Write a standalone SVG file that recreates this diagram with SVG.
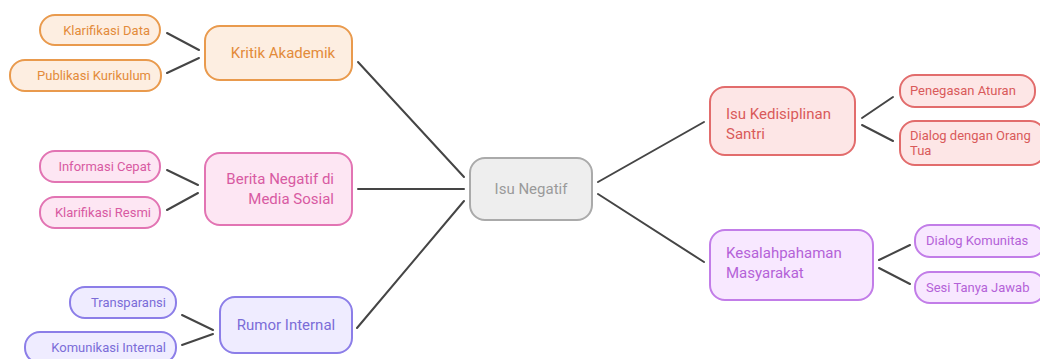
<svg xmlns="http://www.w3.org/2000/svg" width="1040" height="359" viewBox="0 0 1040 359">
<style>
text{font-family:Roboto,"Liberation Sans",sans-serif}
.m{font-size:15px}
.l{font-size:13px}
.c line{stroke:#454545;stroke-width:2;stroke-linecap:round}
.o rect{fill:#fdeee1;stroke:#e99a4d;stroke-width:2}.o text{fill:#e38b3a}
.p rect{fill:#fde6f3;stroke:#e274b3;stroke-width:2}.p text{fill:#d85aa2}
.b rect{fill:#efecff;stroke:#8c7ee8;stroke-width:2}.b text{fill:#7b6cd8}
.g rect{fill:#eeeeee;stroke:#aaaaaa;stroke-width:2}.g text{fill:#9a9a9a}
.r rect{fill:#fde6e6;stroke:#e26c6c;stroke-width:2}.r text{fill:#d95a5a}
.v rect{fill:#f8e8ff;stroke:#c27de8;stroke-width:2}.v text{fill:#b462d8}
</style>
<rect width="1040" height="359" fill="#ffffff"/>
<g class="c">
<line x1="167" y1="33" x2="199" y2="50"/>
<line x1="167" y1="73" x2="199" y2="58"/>
<line x1="167" y1="170" x2="198" y2="185"/>
<line x1="167" y1="210" x2="198" y2="193"/>
<line x1="182" y1="315" x2="213" y2="330"/>
<line x1="182" y1="345" x2="213" y2="334"/>
<line x1="358" y1="62" x2="464" y2="177"/>
<line x1="358" y1="189" x2="464" y2="189"/>
<line x1="357" y1="328" x2="464" y2="201"/>
<line x1="598" y1="182" x2="704" y2="122"/>
<line x1="598" y1="194" x2="704" y2="262"/>
<line x1="862" y1="118" x2="893" y2="97"/>
<line x1="862" y1="125" x2="893" y2="141"/>
<line x1="879" y1="260" x2="910" y2="245"/>
<line x1="879" y1="268" x2="910" y2="284"/>
</g>
<g id="isu-negatif" class="g"><rect x="470" y="158" width="122" height="62" rx="15"/><text class="m" x="531" y="194" text-anchor="middle">Isu Negatif</text></g>
<g id="kritik-akademik" class="o"><rect x="205" y="26" width="147" height="54" rx="15"/><text class="m" x="283" y="58" text-anchor="middle">Kritik Akademik</text></g>
<g id="klarifikasi-data" class="o"><rect x="40" y="15" width="120" height="30" rx="15"/><text class="l" x="150" y="35" text-anchor="end">Klarifikasi Data</text></g>
<g id="publikasi-kurikulum" class="o"><rect x="10" y="60" width="151" height="31" rx="15"/><text class="l" x="151" y="80" text-anchor="end">Publikasi Kurikulum</text></g>
<g id="berita-negatif" class="p"><rect x="205" y="153" width="147" height="72" rx="15"/><text class="m" x="334" y="184" text-anchor="end">Berita Negatif di</text><text class="m" x="334" y="204" text-anchor="end">Media Sosial</text></g>
<g id="informasi-cepat" class="p"><rect x="40" y="151" width="120" height="31" rx="15"/><text class="l" x="151" y="171" text-anchor="end">Informasi Cepat</text></g>
<g id="klarifikasi-resmi" class="p"><rect x="40" y="197" width="120" height="31" rx="15"/><text class="l" x="151" y="217" text-anchor="end">Klarifikasi Resmi</text></g>
<g id="rumor-internal" class="b"><rect x="220" y="297" width="132" height="56" rx="15"/><text class="m" x="286" y="330" text-anchor="middle">Rumor Internal</text></g>
<g id="transparansi" class="b"><rect x="70" y="287" width="106" height="31" rx="15"/><text class="l" x="166" y="307" text-anchor="end">Transparansi</text></g>
<g id="komunikasi-internal" class="b"><rect x="25" y="332" width="151" height="31" rx="15"/><text class="l" x="166" y="352" text-anchor="end">Komunikasi Internal</text></g>
<g id="isu-kedisiplinan" class="r"><rect x="710" y="87" width="145" height="68" rx="15"/><text class="m" x="726" y="119">Isu Kedisiplinan</text><text class="m" x="726" y="139">Santri</text></g>
<g id="penegasan-aturan" class="r"><rect x="900" y="75" width="135" height="32" rx="15"/><text class="l" x="910" y="95">Penegasan Aturan</text></g>
<g id="dialog-orang-tua" class="r"><rect x="900" y="121" width="145" height="44" rx="15"/><text class="l" x="910" y="140">Dialog dengan Orang</text><text class="l" x="910" y="155">Tua</text></g>
<g id="kesalahpahaman" class="v"><rect x="710" y="230" width="163" height="70" rx="15"/><text class="m" x="726" y="258">Kesalahpahaman</text><text class="m" x="726" y="278">Masyarakat</text></g>
<g id="dialog-komunitas" class="v"><rect x="915" y="225" width="130" height="32" rx="15"/><text class="l" x="926" y="245">Dialog Komunitas</text></g>
<g id="sesi-tanya-jawab" class="v"><rect x="915" y="272" width="130" height="31" rx="15"/><text class="l" x="926" y="292">Sesi Tanya Jawab</text></g>
</svg>
